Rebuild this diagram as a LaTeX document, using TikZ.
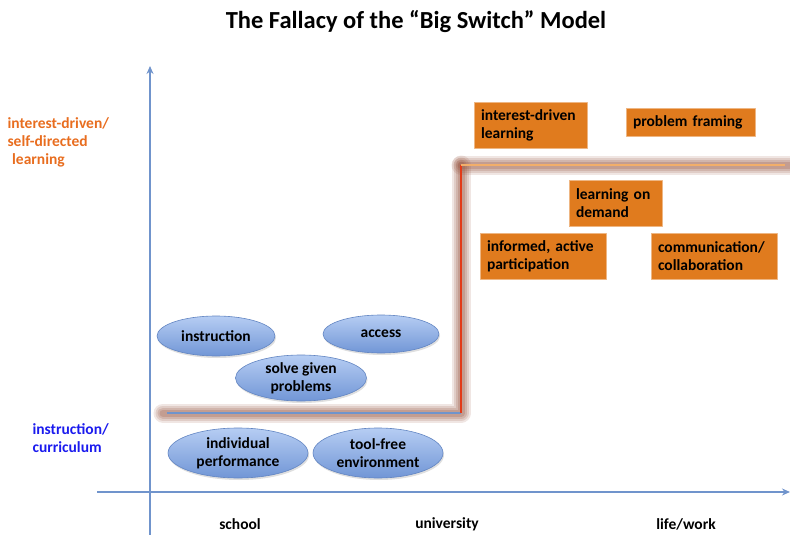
\documentclass[tikz,border=0pt]{standalone}
\usepackage{fontspec}
\setmainfont{Carlito}[BoldFont={Carlito Bold}]
\usetikzlibrary{arrows.meta,shapes.geometric,shadows}
\definecolor{axisblue}{HTML}{7094CC}
\definecolor{ovalfill}{HTML}{B6CDF3}
\definecolor{ovaldark}{HTML}{7196D6}
\definecolor{ovaledge}{HTML}{6285C2}
\definecolor{boxorange}{HTML}{E07B1E}
\definecolor{labelorange}{HTML}{E86D1F}
\definecolor{labelblue}{HTML}{1A1AEE}
\definecolor{glowc}{HTML}{94513C}
\definecolor{corered}{HTML}{E23A18}
\definecolor{corepeach}{HTML}{F2AE6A}
\tikzset{
  oval/.style={ellipse, top color=ovalfill, bottom color=ovaldark, draw=ovaledge, line width=0.6pt, align=center, inner sep=0pt,
    drop shadow={shadow xshift=1pt, shadow yshift=-2pt, opacity=0.25}},
  obox/.style={rectangle, fill=boxorange, draw=boxorange!55!white, line width=0.6pt, align=left, inner xsep=7pt, inner ysep=0pt},
  axislabel/.style={font=\fontsize{15.5}{18}\bfseries\selectfont},
}
\newcommand{\glowpath}[1]{%
  \foreach \w/\o in {19/0.14,15/0.17,11/0.2,7/0.24}{\draw[line width=\w pt, draw=glowc, opacity=\o, line cap=round, line join=round] #1;}}
\begin{document}
\begin{tikzpicture}[x=1pt, y=-1pt, font=\fontsize{15.5}{18}\bfseries\selectfont, line join=round, >={Stealth[length=8pt,width=7pt]}]
  \useasboundingbox (0,0) rectangle (790,535);
  % title
  \node[font=\fontsize{24.5}{28}\bfseries\selectfont] (title) at (416,22) {The Fallacy of the “Big Switch” Model};
  % axes
  \path
    (150,535) coordinate (ybot)
    (150,66) coordinate (ytop)
    (97,492) coordinate (xleft)
    (790,492) coordinate (xright);
  \draw[->, axisblue, line width=2.2pt] (ybot) -- (ytop);
  \draw[->, axisblue, line width=2.2pt] (xleft) -- (xright);
  % axis labels
  \node[axislabel] (school) at (240,524) {school};
  \node[axislabel] (univ) at (447,524) {university};
  \node[axislabel] (life) at (686,524) {life/work};
  \node[anchor=north west, align=left, text=labelorange, font=\fontsize{15.5}{18}\bfseries\selectfont] (high) at (4,114) {interest-driven/\\self-directed\\\hspace{0.3em}learning};
  \node[anchor=north west, align=left, text=labelblue, font=\fontsize{15.5}{18}\bfseries\selectfont] (low) at (29,420) {instruction/\\curriculum};
  % the switch
  \path
    (163,413) coordinate (s1)
    (461,413) coordinate (s2)
    (461,165) coordinate (s3)
    (790,165) coordinate (s4);
  \glowpath{(s1) -- (s2) -- (s3)}
  \glowpath{(s3) -- (s4)}
  \draw[axisblue, line width=1.6pt] (167,413) -- (s2);
  \draw[corered, line width=1.8pt] (s2) -- (s3);
  \draw[corepeach, line width=2.2pt] (s3) -- (785,165);
  % school ovals
  \node[oval, minimum width=118pt, minimum height=40pt] (instr) at (216,336) {instruction};
  \node[oval, minimum width=116pt, minimum height=38pt] (access) at (381,334) {access};
  \node[oval, minimum width=131pt, minimum height=46pt] (solve) at (301,378) {solve given\\problems};
  \node[oval, minimum width=140pt, minimum height=50pt] (indiv) at (238,453) {individual\\performance};
  \node[oval, minimum width=130pt, minimum height=50pt] (tool) at (378,453) {tool-free\\environment};
  % life boxes
  \node[obox, minimum width=113pt, minimum height=46pt, text width=99pt] (idl) at (530.5,125) {interest-driven\\learning};
  \node[obox, minimum width=129pt, minimum height=28pt, text width=115pt] (frame) at (690.5,122) {problem framing};
  \node[obox, minimum width=93pt, minimum height=46pt, text width=79pt] (demand) at (615.5,203.5) {learning on\\demand};
  \node[obox, minimum width=126pt, minimum height=46pt, text width=112pt] (part) at (543,256) {informed, active\\participation};
  \node[obox, minimum width=126pt, minimum height=46pt, text width=112pt] (comm) at (714,256) {communication/\\collaboration};
\end{tikzpicture}
\end{document}
